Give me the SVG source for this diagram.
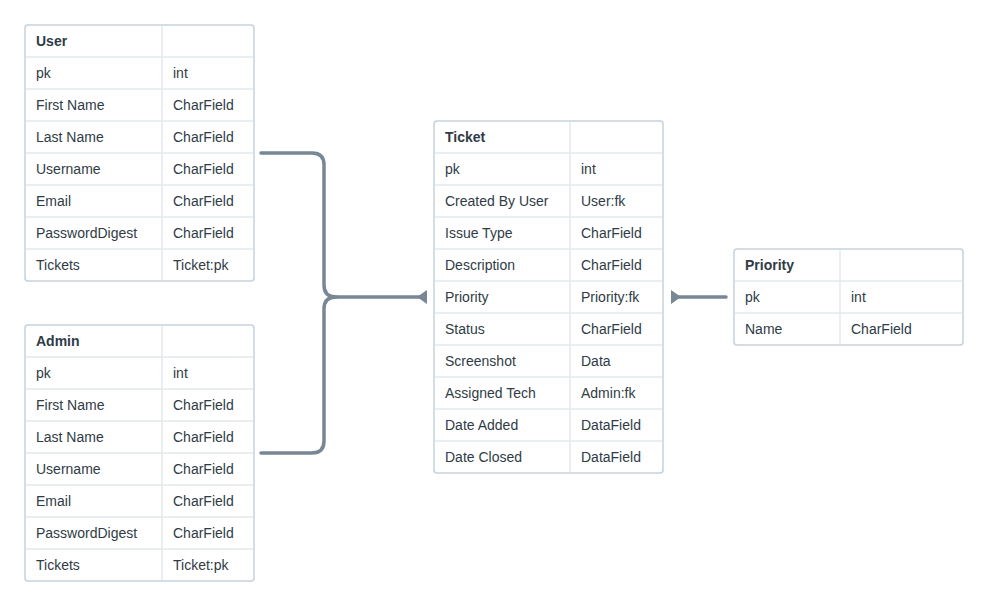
<svg xmlns="http://www.w3.org/2000/svg" width="988" height="606" viewBox="0 0 988 606">
<style>
.frame{fill:#fff;stroke:#c6d1dc;stroke-width:1.5}
.sep{stroke:#e3e8ee;stroke-width:1.5}
text{font-family:"Liberation Sans",Arial,sans-serif;font-size:14px;fill:#2f3b46}
.h{font-weight:bold}
.conn{fill:none;stroke:#788796;stroke-width:3.5;stroke-linecap:round;stroke-linejoin:round}
.tip{fill:#788796}
</style>
<rect width="988" height="606" fill="#fff"/>
<g id="connectors">
<path class="conn" d="M261 153 H312 Q324 153 324 165 V285 Q324 297 336 297 H424"/>
<path class="conn" d="M261 453 H312 Q324 453 324 441 V309 Q324 297 336 297"/>
<polygon class="tip" points="417,297 427,290 427,304"/>
<path class="conn" d="M726 297 H676"/>
<polygon class="tip" points="681,297 671,290 671,304"/>
</g>
<g id="user">
<rect class="frame" x="25" y="25" width="229" height="256" rx="3"/>
<line class="sep" x1="162" y1="26" x2="162" y2="280"/>
<line class="sep" x1="26" y1="57" x2="253" y2="57"/>
<line class="sep" x1="26" y1="89" x2="253" y2="89"/>
<line class="sep" x1="26" y1="121" x2="253" y2="121"/>
<line class="sep" x1="26" y1="153" x2="253" y2="153"/>
<line class="sep" x1="26" y1="185" x2="253" y2="185"/>
<line class="sep" x1="26" y1="217" x2="253" y2="217"/>
<line class="sep" x1="26" y1="249" x2="253" y2="249"/>
<text class="h" x="36" y="46">User</text>
<text x="36" y="78">pk</text><text x="173" y="78">int</text>
<text x="36" y="110">First Name</text><text x="173" y="110">CharField</text>
<text x="36" y="142">Last Name</text><text x="173" y="142">CharField</text>
<text x="36" y="174">Username</text><text x="173" y="174">CharField</text>
<text x="36" y="206">Email</text><text x="173" y="206">CharField</text>
<text x="36" y="238">PasswordDigest</text><text x="173" y="238">CharField</text>
<text x="36" y="270">Tickets</text><text x="173" y="270">Ticket:pk</text>
</g>
<g id="admin">
<rect class="frame" x="25" y="325" width="229" height="256" rx="3"/>
<line class="sep" x1="162" y1="326" x2="162" y2="580"/>
<line class="sep" x1="26" y1="357" x2="253" y2="357"/>
<line class="sep" x1="26" y1="389" x2="253" y2="389"/>
<line class="sep" x1="26" y1="421" x2="253" y2="421"/>
<line class="sep" x1="26" y1="453" x2="253" y2="453"/>
<line class="sep" x1="26" y1="485" x2="253" y2="485"/>
<line class="sep" x1="26" y1="517" x2="253" y2="517"/>
<line class="sep" x1="26" y1="549" x2="253" y2="549"/>
<text class="h" x="36" y="346">Admin</text>
<text x="36" y="378">pk</text><text x="173" y="378">int</text>
<text x="36" y="410">First Name</text><text x="173" y="410">CharField</text>
<text x="36" y="442">Last Name</text><text x="173" y="442">CharField</text>
<text x="36" y="474">Username</text><text x="173" y="474">CharField</text>
<text x="36" y="506">Email</text><text x="173" y="506">CharField</text>
<text x="36" y="538">PasswordDigest</text><text x="173" y="538">CharField</text>
<text x="36" y="570">Tickets</text><text x="173" y="570">Ticket:pk</text>
</g>
<g id="ticket">
<rect class="frame" x="434" y="121" width="229" height="352" rx="3"/>
<line class="sep" x1="570" y1="122" x2="570" y2="472"/>
<line class="sep" x1="435" y1="153" x2="662" y2="153"/>
<line class="sep" x1="435" y1="185" x2="662" y2="185"/>
<line class="sep" x1="435" y1="217" x2="662" y2="217"/>
<line class="sep" x1="435" y1="249" x2="662" y2="249"/>
<line class="sep" x1="435" y1="281" x2="662" y2="281"/>
<line class="sep" x1="435" y1="313" x2="662" y2="313"/>
<line class="sep" x1="435" y1="345" x2="662" y2="345"/>
<line class="sep" x1="435" y1="377" x2="662" y2="377"/>
<line class="sep" x1="435" y1="409" x2="662" y2="409"/>
<line class="sep" x1="435" y1="441" x2="662" y2="441"/>
<text class="h" x="445" y="142">Ticket</text>
<text x="445" y="174">pk</text><text x="581" y="174">int</text>
<text x="445" y="206">Created By User</text><text x="581" y="206">User:fk</text>
<text x="445" y="238">Issue Type</text><text x="581" y="238">CharField</text>
<text x="445" y="270">Description</text><text x="581" y="270">CharField</text>
<text x="445" y="302">Priority</text><text x="581" y="302">Priority:fk</text>
<text x="445" y="334">Status</text><text x="581" y="334">CharField</text>
<text x="445" y="366">Screenshot</text><text x="581" y="366">Data</text>
<text x="445" y="398">Assigned Tech</text><text x="581" y="398">Admin:fk</text>
<text x="445" y="430">Date Added</text><text x="581" y="430">DataField</text>
<text x="445" y="462">Date Closed</text><text x="581" y="462">DataField</text>
</g>
<g id="priority">
<rect class="frame" x="734" y="249" width="229" height="96" rx="3"/>
<line class="sep" x1="840" y1="250" x2="840" y2="344"/>
<line class="sep" x1="735" y1="281" x2="962" y2="281"/>
<line class="sep" x1="735" y1="313" x2="962" y2="313"/>
<text class="h" x="745" y="270">Priority</text>
<text x="745" y="302">pk</text><text x="851" y="302">int</text>
<text x="745" y="334">Name</text><text x="851" y="334">CharField</text>
</g>
</svg>
